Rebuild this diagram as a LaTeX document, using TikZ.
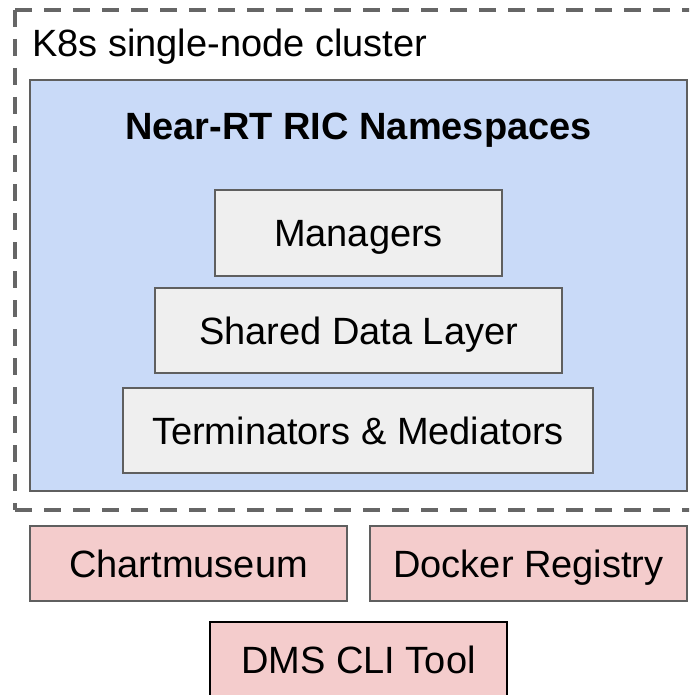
\documentclass[tikz,border=0pt]{standalone}
\usepackage{fontspec}
\setmainfont{Liberation Sans}
\definecolor{bluefill}{HTML}{C9DAF8}
\definecolor{greyfill}{HTML}{EFEFEF}
\definecolor{pinkfill}{HTML}{F4CCCC}
\definecolor{edgegrey}{HTML}{5F5F5F}
\definecolor{dashgrey}{HTML}{666666}
\begin{document}
\begin{tikzpicture}[x=1pt,y=-1pt,
  txt/.style={font=\fontsize{38}{44}\selectfont, text height=27.2pt, text depth=0pt, inner sep=0pt},
  layerbox/.style={txt, draw=edgegrey, line width=2pt, fill=greyfill, rectangle},
  extbox/.style={txt, draw=edgegrey, line width=2pt, fill=pinkfill, rectangle},
]
\useasboundingbox (0,0) rectangle (689,695);
\clip (0,0) rectangle (689,695);
\fill[white] (0,0) rectangle (689,695);
% cluster boundary
\draw[dashgrey, line width=3.5pt, dash pattern=on 17pt off 12pt] (15,10) -- (720,10);
\draw[dashgrey, line width=3.5pt, dash pattern=on 17pt off 12pt] (15,510) -- (720,510);
\draw[dashgrey, line width=3.5pt, dash pattern=on 17pt off 12pt] (15,10) -- (15,510);
\node[txt, anchor=base west] (cluster) at (32,57) {K8s single-node cluster};
% namespaces box
\draw[edgegrey, line width=2pt, fill=bluefill] (30,80) rectangle (687,491);
\node[txt, font=\fontsize{38}{44}\selectfont\bfseries, anchor=base] (ns) at (358.5,140) {Near-RT RIC Namespaces};
% layers
\node[layerbox, minimum width=287pt, minimum height=86pt] (mgr) at (358.5,233) {Managers};
\node[layerbox, minimum width=407pt, minimum height=85pt] (sdl) at (358.5,330.5) {Shared Data Layer};
\node[layerbox, minimum width=470pt, minimum height=85pt] (term) at (358,430.5) {Terminators \& Mediators};
% external
\node[extbox, minimum width=317pt, minimum height=75pt] (chart) at (188.5,563.5) {Chartmuseum};
\node[extbox, minimum width=317pt, minimum height=75pt] (docker) at (528.5,563.5) {Docker Registry};
\node[extbox, draw=black, minimum width=297pt, minimum height=76pt] (dms) at (358.5,660) {DMS CLI Tool};
\end{tikzpicture}
\end{document}
